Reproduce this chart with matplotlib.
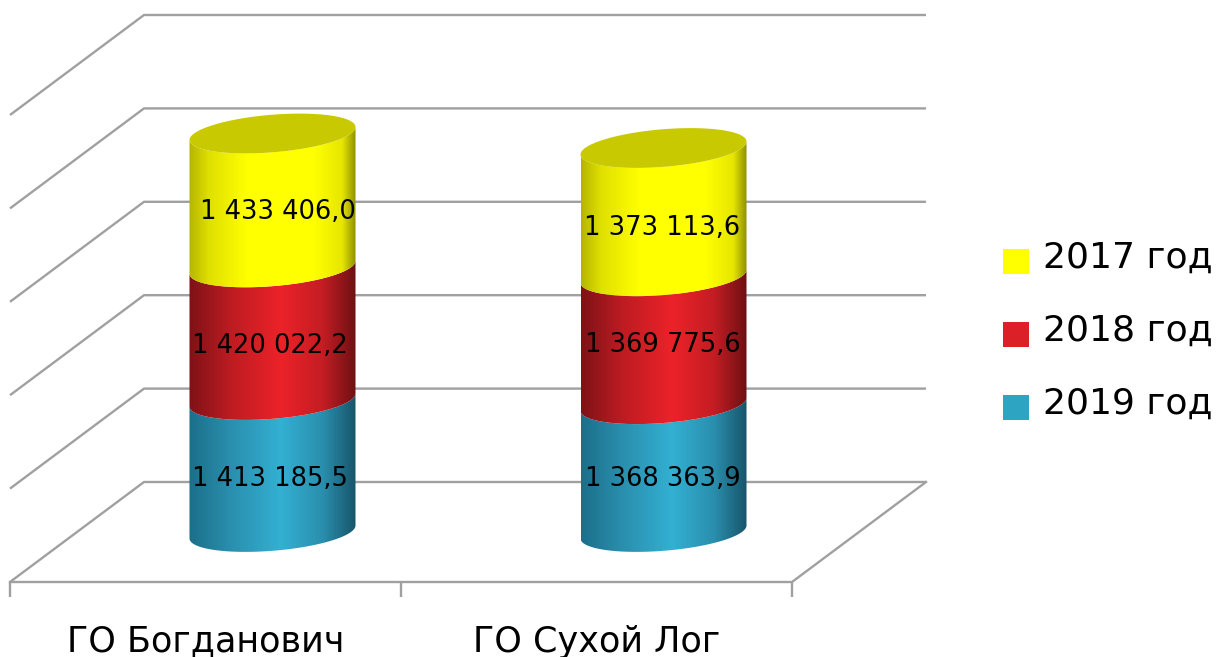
import numpy as np
import matplotlib
matplotlib.use("Agg")
import matplotlib.pyplot as plt
from matplotlib.colors import LinearSegmentedColormap
from matplotlib.patches import Patch, PathPatch
from matplotlib.path import Path

# Data
categories = ["ГО Богданович", "ГО Сухой Лог"]
series_names = ["2017 год", "2018 год", "2019 год"]
values_2019 = [1413185.5, 1368363.9]
values_2018 = [1420022.2, 1369775.6]
values_2017 = [1433406.0, 1373113.6]
y_ticks = [0, 1000000, 2000000, 3000000, 4000000, 5000000]

W, H = 1217, 657
PX_X = 391.0      # pixels per category
PX_Y = 93.4e-6    # pixels per unit of value
X0, Y0 = 10, 582  # front left floor corner, pixels

def px_w(p):
    return p / PX_X

def px_h(p):
    return p / PX_Y

depth_x = px_w(134)
depth_y = px_h(100)
grid_color = "#a0a0a0"
grid_lw = 1.7

fig = plt.figure(figsize=(W / 100, H / 100), dpi=100)
ax = fig.add_axes([0, 0, 1, 1])
ax.axis("off")
xlim = (-X0 / PX_X, (W - X0) / PX_X)
ylim = (-(H - Y0) / PX_Y, Y0 / PX_Y)

# walls and floor
n_cat = len(categories)
for v in y_ticks:
    ax.plot([0, depth_x, n_cat + depth_x], [v, v + depth_y, v + depth_y],
            color=grid_color, lw=grid_lw, solid_capstyle="butt", zorder=1)
ax.plot([n_cat + depth_x, n_cat, 0], [depth_y, 0, 0], color=grid_color, lw=grid_lw, zorder=1)
for i in range(n_cat + 1):
    ax.plot([i, i], [0, -px_h(15)], color=grid_color, lw=grid_lw, solid_capstyle="butt", zorder=1)

for i, name in enumerate(categories):
    ax.text(i + 0.5, -px_h(60), name, ha="center", va="center", fontsize=25.2, color="black",
            family="DejaVu Sans")

def make_cmap(stops):
    return LinearSegmentedColormap.from_list("c", stops)

cmaps = {
    "2019": make_cmap([(0, "#1b6f8a"), (0.25, "#2a8fae"), (0.55, "#33b0d2"), (0.8, "#2a8fae"), (1, "#17556a")]),
    "2018": make_cmap([(0, "#7e1216"), (0.25, "#bd1c22"), (0.55, "#ec2229"), (0.8, "#c41d23"), (1, "#6e1013")]),
    "2017": make_cmap([(0, "#b5b500"), (0.12, "#e0e000"), (0.35, "#ffff00"), (0.75, "#ffff00"),
                       (0.92, "#e6e600"), (1, "#8f8f00")]),
}
cap_color = "#c9c900"

a = px_w(83)
b = px_h(18.8)
shear = px_h(6.5) / a
t_front = np.linspace(np.pi, 2 * np.pi, 80)
t_all = np.linspace(0, 2 * np.pi, 160)

def ring(cx, cy, t):
    return cx + a * np.cos(t), cy + b * np.sin(t) + shear * a * np.cos(t)

def side(cx, y0, y1, cmap):
    x_b, y_b = ring(cx, y0, t_front)
    x_t, y_t = ring(cx, y1, t_front[::-1])
    verts = np.column_stack([np.r_[x_b, x_t], np.r_[y_b, y_t]])
    patch = PathPatch(Path(np.vstack([verts, verts[0]]), closed=True), fc="none", ec="none", zorder=3)
    ax.add_patch(patch)
    im = ax.imshow(np.linspace(0, 1, 256).reshape(1, -1), cmap=cmap, aspect="auto",
                   extent=(cx - a, cx + a, y0 - 2 * b, y1 + 2 * b), zorder=3)
    im.set_clip_path(patch)

# label shifts in pixels (right, down), by (category, series)
label_dx = {(0, 0): -3, (0, 1): -3, (0, 2): 5, (1, 0): -1, (1, 1): -1, (1, 2): -1}
label_dy = {(0, 0): 13, (0, 1): 12, (0, 2): 12, (1, 0): 11, (1, 1): 5, (1, 2): 16}

for i in range(n_cat):
    cx = i + 0.5 + depth_x / 2
    bottom = depth_y / 2
    stack = [("2019", values_2019[i]), ("2018", values_2018[i]), ("2017", values_2017[i])]
    for j, (key, val) in enumerate(stack):
        top = bottom + val
        side(cx, bottom, top, cmaps[key])
        txt = f"{val:,.1f}".replace(",", " ").replace(".", ",")
        ax.text(cx + px_w(label_dx[(i, j)]), bottom + val / 2 - px_h(label_dy[(i, j)]), txt,
                ha="center", va="center", fontsize=18.5, color="black", zorder=5,
                family="DejaVu Sans")
        bottom = top
    x_c, y_c = ring(cx, bottom, t_all)
    ax.fill(x_c, y_c, color=cap_color, lw=0, zorder=4)

ax.set_xlim(*xlim)
ax.set_ylim(*ylim)

handles = [Patch(fc="#ffff00"), Patch(fc="#dc2027"), Patch(fc="#2da4c2")]
leg = ax.legend(handles, series_names, loc="upper left", frameon=False,
                bbox_to_anchor=(1003 / W, 1 - 247 / H), bbox_transform=fig.transFigure,
                borderpad=0, borderaxespad=0, handlelength=0.72, handleheight=0.72,
                handletextpad=0.4, labelspacing=1.08,
                prop={"family": "DejaVu Sans", "size": 26})
for t in leg.get_texts():
    t.set_y(6)

fig.savefig("out.png", dpi=100)
